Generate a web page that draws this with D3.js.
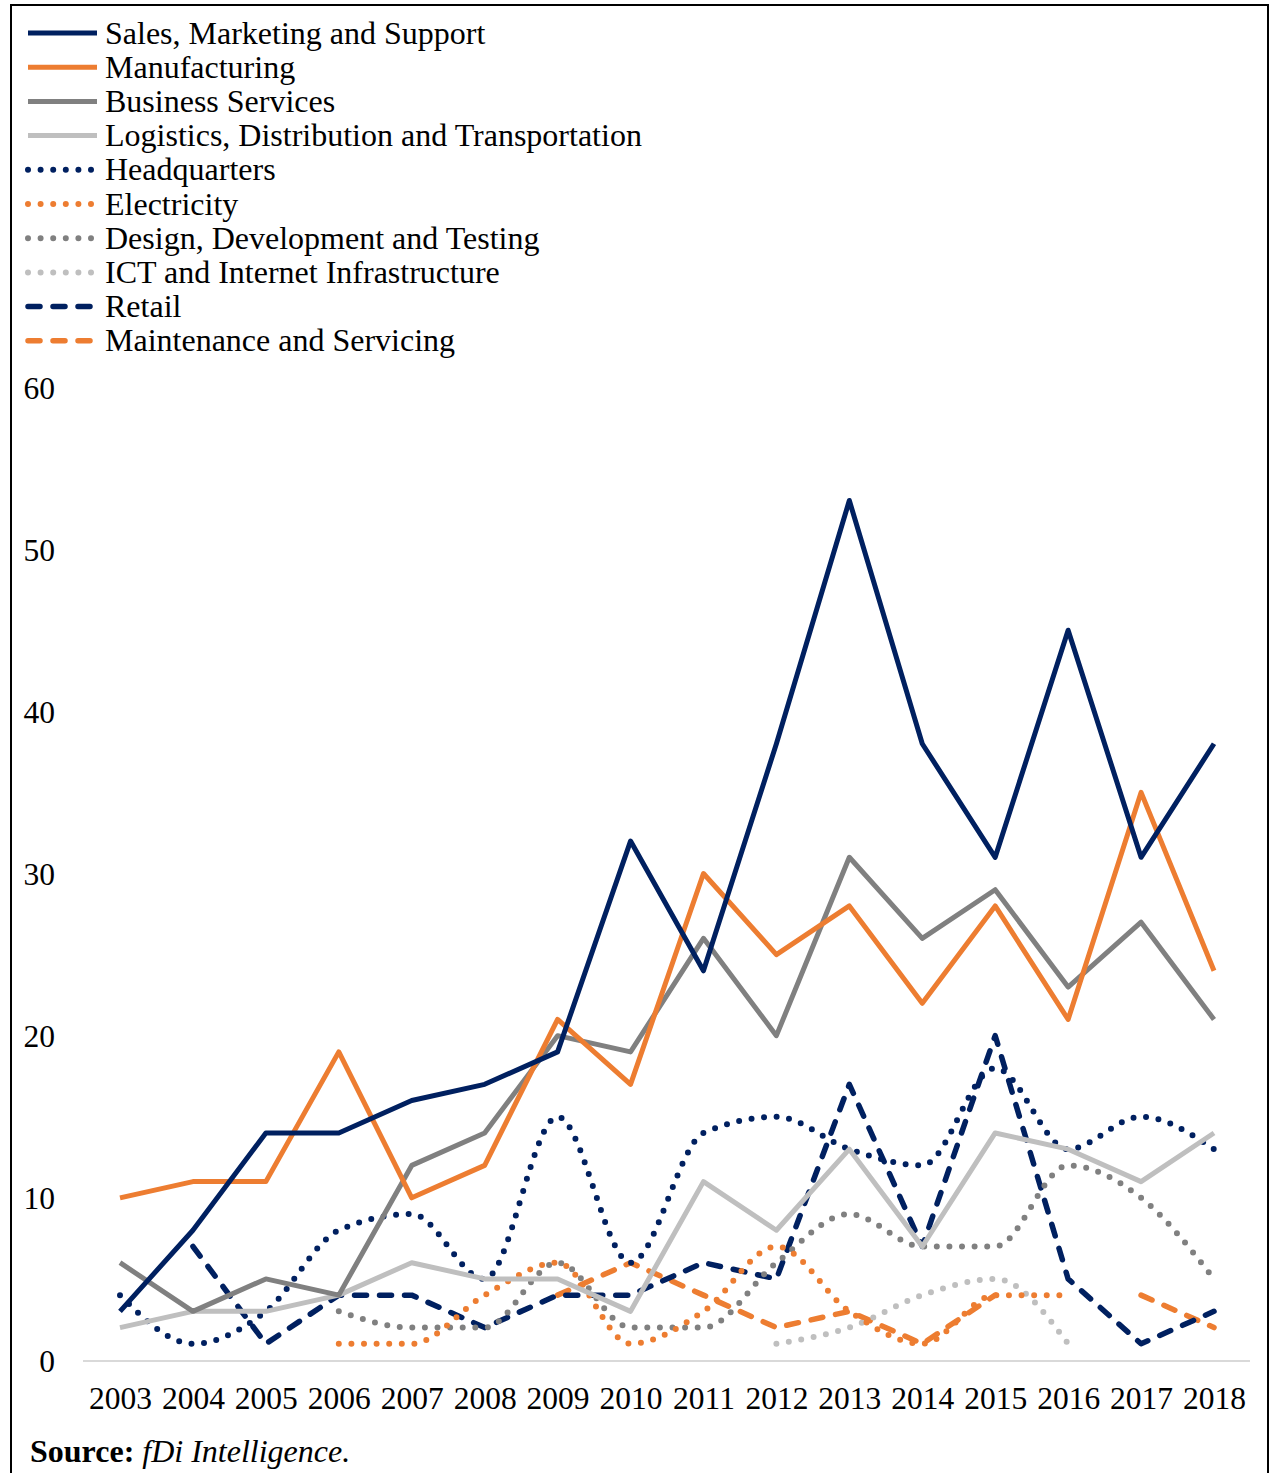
<!DOCTYPE html>
<html>
<head>
<meta charset="utf-8">
<script src="https://cdn.jsdelivr.net/npm/d3@7"></script>
<style>
  body { margin: 0; background: #fff; }
  text { font-family: "Liberation Serif", "Times New Roman", serif; fill: #000; }
</style>
</head>
<body>
<div id="chart"></div>
<script>
var width = 1272
var height = 1473

var years = [2003, 2004, 2005, 2006, 2007, 2008, 2009, 2010, 2011, 2012, 2013, 2014, 2015, 2016, 2017, 2018]
var yTicks = [0, 10, 20, 30, 40, 50, 60]

var sales = [3, 8, 14, 14, 16, 17, 19, 32, 24, 38, 53, 38, 31, 45, 31, 38]
var manufacturing = [10, 11, 11, 19, 10, 12, 21, 17, 30, 25, 28, 22, 28, 21, 35, 24]
var business = [6, 3, 5, 4, 12, 14, 20, 19, 26, 20, 31, 26, 29, 23, 27, 21]
var logistics = [2, 3, 3, 4, 6, 5, 5, 3, 11, 8, 13, 7, 14, 13, 11, 14]
var headquarters = [4, 1, 3, 8, 9, 5, 15, 6, 14, 15, 13, 12, 18, 13, 15, 13]
var electricity = [null, null, null, 1, 1, 4, 6, 1, 3, 7, 3, 1, 4, 4, null, null]
var design = [null, null, null, 3, 2, 2, 6, 2, 2, 6, 9, 7, 7, 12, 10, 5]
var ict = [null, null, null, null, null, null, null, null, null, 1, 2, 4, 5, 1, null, null]
var retail = [null, 7, 1, 4, 4, 2, 4, 4, 6, 5, 17, 7, 20, 5, 1, 3]
var maintenance = [null, null, null, null, null, null, 4, 6, 4, 2, 3, 1, 4, null, 4, 2]

var navy = "#002060", orange = "#ED7D31", grey = "#808080", lightGrey = "#BFBFBF"

var series = [
  {name: "Sales, Marketing and Support", values: sales, color: navy, style: "solid"},
  {name: "Manufacturing", values: manufacturing, color: orange, style: "solid"},
  {name: "Business Services", values: business, color: grey, style: "solid"},
  {name: "Logistics, Distribution and Transportation", values: logistics, color: lightGrey, style: "solid"},
  {name: "Headquarters", values: headquarters, color: navy, style: "dot"},
  {name: "Electricity", values: electricity, color: orange, style: "dot"},
  {name: "Design, Development and Testing", values: design, color: grey, style: "dot"},
  {name: "ICT and Internet Infrastructure", values: ict, color: lightGrey, style: "dot"},
  {name: "Retail", values: retail, color: navy, style: "dash"},
  {name: "Maintenance and Servicing", values: maintenance, color: orange, style: "dash"}
]

var svg = d3.select("#chart").append("svg").attr("width", width).attr("height", height)

// outer frame
svg.append("rect").attr("x", 11).attr("y", 5).attr("width", 1257).attr("height", 1480)
  .attr("fill", "none").attr("stroke", "#000").attr("stroke-width", 2)

var x = d3.scalePoint().domain(years).range([120, 1214])
var y = d3.scaleLinear().domain([0, 60]).range([1360, 387])

function applyStyle(sel, s) {
  sel.attr("stroke", s.color).attr("fill", "none").attr("stroke-linejoin", "round")
  if (s.style == "solid") {
    sel.attr("stroke-width", 5)
  } else if (s.style == "dot") {
    sel.attr("stroke-width", 6).attr("stroke-linecap", "round").attr("stroke-dasharray", "0,12.6")
  } else {
    sel.attr("stroke-width", 5.5).attr("stroke-linecap", "round").attr("stroke-dasharray", "12,13")
  }
  return sel
}

// baseline
svg.append("line").attr("x1", 83).attr("x2", 1250).attr("y1", 1361).attr("y2", 1361)
  .attr("stroke", "#d9d9d9").attr("stroke-width", 2)

// x axis labels
var xAxis = svg.append("g").attr("transform", "translate(0,1361)")
  .call(d3.axisBottom(x).tickSize(0).tickPadding(0))
xAxis.select(".domain").remove()
xAxis.selectAll("text").attr("y", 48).attr("dy", 0).style("font-size", "31.5px")
  .style("font-family", "Liberation Serif")

// y axis labels
var yAxis = svg.append("g").attr("transform", "translate(55,0)")
  .call(d3.axisLeft(y).tickValues(yTicks).tickSize(0).tickPadding(0))
yAxis.select(".domain").remove()
yAxis.selectAll("text").attr("x", 0).attr("dy", "0.35em").style("font-size", "31.5px")
  .style("font-family", "Liberation Serif")

// lines, drawn in reverse so the main series sit on top
var plot = svg.append("g")
series.slice().reverse().forEach(function(s) {
  var line = d3.line()
    .defined(function(d) { return d != null })
    .x(function(d, i) { return x(years[i]) })
    .y(function(d) { return y(d) })
  if (s.style == "dot") line.curve(d3.curveMonotoneX)
  applyStyle(plot.append("path").attr("d", line(s.values)), s)
})

// legend
var legend = svg.append("g")
series.forEach(function(s, i) {
  var ly = 33 + i * 34.2
  applyStyle(legend.append("line").attr("x1", 28).attr("x2", 97).attr("y1", ly).attr("y2", ly), s)
  legend.append("text").attr("x", 105).attr("y", ly + 10.5).style("font-size", "32px").text(s.name)
})

// source
var src = svg.append("text").attr("x", 30).attr("y", 1462).style("font-size", "32px")
src.append("tspan").style("font-weight", "bold").text("Source: ")
src.append("tspan").style("font-style", "italic").text("fDi Intelligence.")
</script>
</body>
</html>
